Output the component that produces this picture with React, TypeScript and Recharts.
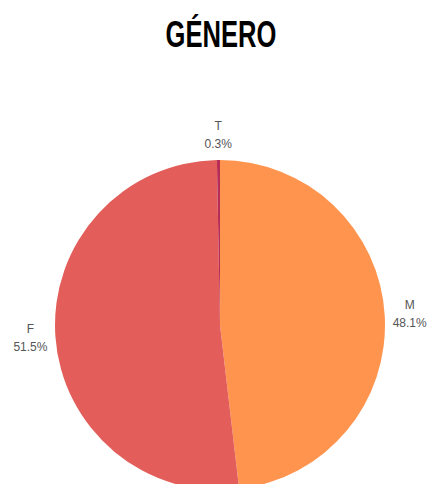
import { PieChart, Pie, Cell } from 'recharts';

const categories = ['M', 'F', 'T'];
const shares = [48.1, 51.5, 0.3];
const colors = ['#FF944F', '#E35E5A', '#B82D55'];

const data = categories.map((name, i) => ({ name, value: shares[i] }));

const RAD = Math.PI / 180;

function renderLabel({ cx, cy, midAngle, outerRadius, index }: any) {
  const r = outerRadius + 25;
  const x = cx + r * Math.cos(-midAngle * RAD);
  const y = cy + r * Math.sin(-midAngle * RAD);
  return (
    <text
      x={x}
      y={y}
      textAnchor="middle"
      fill="#555"
      fontSize={12}
      fontFamily="'Liberation Sans', Arial, sans-serif"
    >
      <tspan x={x} dy={-5}>{categories[index]}</tspan>
      <tspan x={x} dy={18}>{shares[index].toFixed(1)}%</tspan>
    </text>
  );
}

export default function App() {
  return (
    <div style={{ position: 'relative', width: 432, height: 484, overflow: 'hidden', background: '#fff' }}>
      <style>{`body{margin:0}`}</style>
      <div
        style={{
          position: 'absolute',
          top: 17,
          left: 0,
          width: 442,
          textAlign: 'center',
          fontFamily: "'Liberation Sans', Arial, sans-serif",
          fontWeight: 700,
          fontSize: 36,
          lineHeight: '36px',
          color: '#000',
          transform: 'scaleX(0.71)',
          transformOrigin: '221px 0',
        }}
      >
        GÉNERO
      </div>
      <PieChart width={432} height={484} margin={{ top: 0, right: 0, bottom: 0, left: 0 }}>
        <Pie
          data={data}
          dataKey="value"
          nameKey="name"
          cx={220}
          cy={325}
          outerRadius={165}
          startAngle={90}
          endAngle={-270}
          label={renderLabel}
          labelLine={false}
          isAnimationActive={false}
        >
          {data.map((_, i) => (
            <Cell key={`cell-${i}`} fill={colors[i]} stroke="none" />
          ))}
        </Pie>
      </PieChart>
    </div>
  );
}
